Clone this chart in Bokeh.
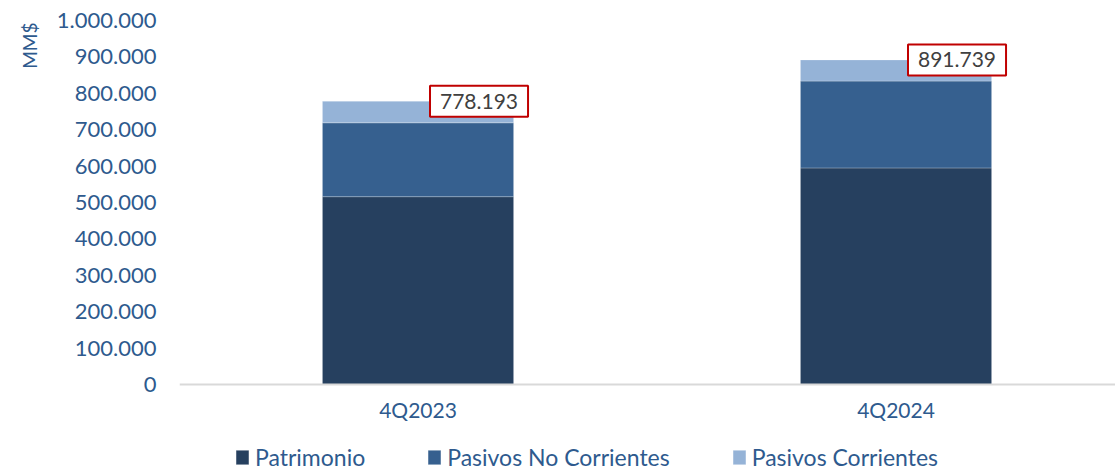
from bokeh.plotting import figure
from bokeh.models import (ColumnDataSource, Range1d, FixedTicker, Label, Legend, LegendItem, Title)
from bokeh.embed import file_html
from bokeh.resources import INLINE

# ---- data ----
categories = ["4Q2023", "4Q2024"]
patrimonio = [516000, 595000]
pasivos_no_corrientes = [203000, 238500]
pasivos_corrientes = [59193, 58239]
series_names = ["Patrimonio", "Pasivos No Corrientes", "Pasivos Corrientes"]
y_ticks = [0, 100000, 200000, 300000, 400000, 500000, 600000, 700000, 800000, 900000, 1000000]
y_tick_labels = ["0", "100.000", "200.000", "300.000", "400.000", "500.000",
                 "600.000", "700.000", "800.000", "900.000", "1.000.000"]
y_axis_title = "MM$"

colors = ["#26405F", "#36608F", "#95B3D7"]
blue_text = "#2E5A8E"
FONT = "Lato"

xs = [i + 0.5 for i in range(len(categories))]
totals = [a + b + c for a, b, c in zip(patrimonio, pasivos_no_corrientes, pasivos_corrientes)]

source = ColumnDataSource(dict(x=xs, cat=categories, p=patrimonio,
                               pnc=pasivos_no_corrientes, pc=pasivos_corrientes))

FW = 936
FH = 451          # frame reaches the bottom of the canvas; value 0 sits 87 px above it
PX_PER_UNIT = 364 / 1000000
p = figure(frame_width=FW, frame_height=FH, output_backend="svg", toolbar_location=None,
           x_range=Range1d(0.001, 0.001 + FW / 478),
           y_range=Range1d(-87 / PX_PER_UNIT, 1000000),
           min_border_left=179, min_border_right=0, min_border_top=20, min_border_bottom=0)
p.outline_line_color = None
p.xgrid.grid_line_color = None
p.ygrid.grid_line_color = None
p.background_fill_color = "white"
p.border_fill_color = "white"

rs = p.vbar_stack(["p", "pnc", "pc"], x="x", width=0.4, source=source, color=colors,
                  line_color="white", line_alpha=0.25, line_width=1)

# y axis
p.yaxis.ticker = FixedTicker(ticks=y_ticks)
p.yaxis.major_label_overrides = {t: l for t, l in zip(y_ticks, y_tick_labels)}
p.yaxis.axis_line_color = None
p.yaxis.major_tick_line_color = None
p.yaxis.minor_tick_line_color = None
p.yaxis.major_tick_out = 0
p.yaxis.major_label_standoff = 23
p.yaxis.major_label_text_font = FONT
p.yaxis.major_label_text_font_size = "22px"
p.yaxis.major_label_text_color = blue_text

# x axis, drawn at value 0
p.xaxis.fixed_location = 0
p.xaxis.ticker = FixedTicker(ticks=xs)
p.xaxis.major_label_overrides = {x: c for x, c in zip(xs, categories)}
p.xaxis.axis_line_color = "#D9D9D9"
p.xaxis.axis_line_width = 2
p.xaxis.major_tick_line_color = None
p.xaxis.minor_tick_line_color = None
p.xaxis.major_tick_out = 0
p.xaxis.major_label_standoff = 12
p.xaxis.major_label_text_font = FONT
p.xaxis.major_label_text_font_size = "21px"
p.xaxis.major_label_text_color = blue_text

# y axis title
p.add_layout(Title(text=y_axis_title, align="right", text_font=FONT, text_font_size="19px",
                   text_font_style="normal", text_color=blue_text, standoff=26, offset=2), "left")

# total labels
for x, t in zip(xs, totals):
    p.add_layout(Label(x=x, y=t, x_offset=61, text=f"{t:,}".replace(",", "."),
                       text_align="center", text_baseline="middle", text_font=FONT,
                       text_font_size="21px", text_color="#404040",
                       background_fill_color="white", border_line_color="#C00000",
                       border_line_width=2, padding=(10, 8)))

legend = Legend(items=[LegendItem(label=n, renderers=[r]) for n, r in zip(series_names, rs)],
                orientation="horizontal", location=(55, 0), padding=0, margin=0,
                glyph_width=16, glyph_height=18, label_standoff=5, spacing=61,
                label_text_font=FONT, label_text_font_size="23px", label_text_color=blue_text,
                label_height=20, background_fill_alpha=0, border_line_color=None)
p.add_layout(legend, "center")

open("out.html", "w").write(file_html(p, INLINE))
